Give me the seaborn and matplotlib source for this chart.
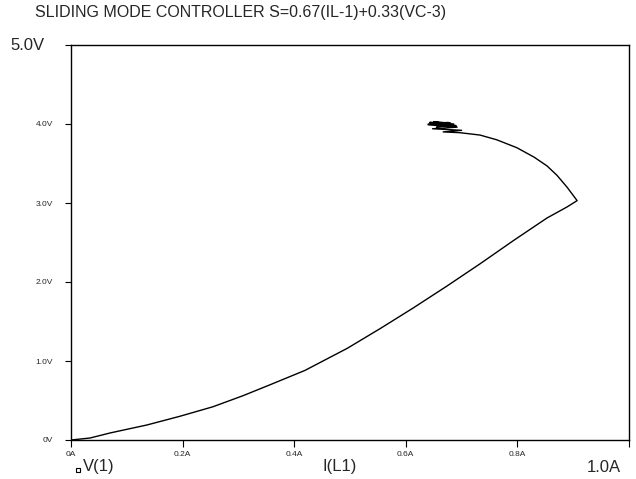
import matplotlib
matplotlib.use("Agg")
import matplotlib.pyplot as plt
import seaborn as sns
import pandas as pd

# trajectory in the phase plane: inductor current vs capacitor voltage
i_l = [0.0, 0.034, 0.070, 0.136, 0.195, 0.254, 0.308, 0.357, 0.419,
       0.495, 0.554, 0.613, 0.674, 0.733, 0.792, 0.853, 0.889, 0.907,
       0.889, 0.871, 0.853, 0.830, 0.799, 0.763, 0.733, 0.697, 0.667,
       0.700, 0.648, 0.692, 0.640, 0.686, 0.643, 0.680, 0.650, 0.690, 0.640,
       0.676, 0.655, 0.684, 0.660, 0.690, 0.652]
v_c = [0.0, 0.025, 0.089, 0.19, 0.30, 0.42, 0.56, 0.70, 0.88,
       1.16, 1.41, 1.67, 1.95, 2.23, 2.52, 2.81, 2.95, 3.03,
       3.20, 3.35, 3.47, 3.58, 3.70, 3.80, 3.86, 3.89, 3.90,
       3.92, 3.94, 3.96, 3.99, 4.00, 4.02, 4.01, 4.03, 3.98, 4.00,
       4.02, 3.96, 3.99, 4.01, 3.97, 4.02]

x_ticks = [0.0, 0.2, 0.4, 0.6, 0.8, 1.0]
x_labels = ["0A", "0.2A", "0.4A", "0.6A", "0.8A", ""]
y_ticks = [0.0, 1.0, 2.0, 3.0, 4.0, 5.0]
y_labels = ["0V", "1.0V", "2.0V", "3.0V", "4.0V", ""]

df = pd.DataFrame({"I(L1)": i_l, "V(1)": v_c})

sns.set_style("white")
plt.rcParams["font.family"] = ["Liberation Sans", "DejaVu Sans"]

fig = plt.figure(figsize=(6.36, 4.79), dpi=100)
ax = fig.add_axes([71 / 636, 1 - 440 / 479, 558 / 636, 395 / 479])

sns.lineplot(data=df, x="I(L1)", y="V(1)", sort=False, estimator=None,
             color="black", linewidth=1.0, ax=ax)

ax.set_xlim(0, 1.0)
ax.set_ylim(0, 5.0)
ax.set_xticks(x_ticks)
ax.set_xticklabels(x_labels, fontsize=6)
ax.set_yticks(y_ticks)
ax.set_yticklabels(y_labels, fontsize=6)
ax.tick_params(axis="y", direction="out", length=4, width=0.8,
               color="black", pad=9, left=True)
ax.tick_params(axis="x", direction="out", length=5, width=0.8,
               color="black", pad=3, bottom=True)
ax.set_xlabel("")
ax.set_ylabel("")
for s in ax.spines.values():
    s.set_color("black")
    s.set_linewidth(1.0)

fig.text(35 / 636, 1 - 13 / 479, "SLIDING MODE CONTROLLER S=0.67(IL-1)+0.33(VC-3)",
         fontsize=11.5, ha="left", va="center")
fig.text(27 / 636, 1 - 46 / 479, "5.0V", fontsize=12, ha="center", va="center")
fig.text(604 / 636, 1 - 468 / 479, "1.0A", fontsize=12, ha="center", va="center")
fig.text(340 / 636, 1 - 467 / 479, "I(L1)", fontsize=12, ha="center", va="center")
fig.text(83 / 636, 1 - 467 / 479, "V(1)", fontsize=12, ha="left", va="center")
ax.plot([78 / 636], [1 - 470 / 479], marker="s", markersize=3.5,
        markerfacecolor="white", markeredgecolor="black", markeredgewidth=0.8,
        transform=fig.transFigure, clip_on=False)

fig.savefig("out.png", dpi=100)
